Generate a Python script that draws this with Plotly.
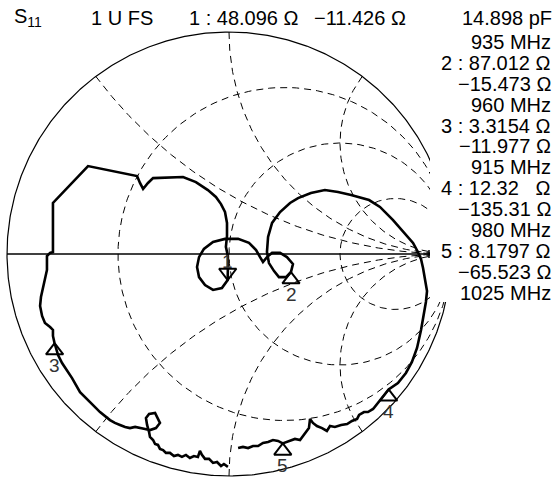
import numpy as np
import plotly.graph_objects as go

# Reference impedance of the measurement port
Z0_OHM = 50.0

# Marker readouts (marker 1 is the active marker)
MARKER_ID = ["1", "2", "3", "4", "5"]
MARKER_FREQ_MHZ = [935, 960, 915, 980, 1025]
MARKER_R_OHM = [48.096, 87.012, 3.3154, 12.32, 8.1797]
MARKER_X_OHM = [-11.426, -15.473, -11.977, -135.31, -65.523]

# Smith chart graticule: constant-resistance circles and constant-reactance arcs
R_CIRCLES = [1 / 3, 1.0, 3.0]
X_ARCS = [0.5, 1.0, 2.0, -0.5, -1.0, -2.0]

# Swept S11 trace, reflection coefficient (real part, imaginary part)
S11_RE = [
    -0.005, -0.023, -0.036, -0.054, -0.072, -0.090, -0.108, -0.122, -0.131, -0.140,
    -0.158, -0.176, -0.194, -0.212, -0.230, -0.248, -0.266, -0.284, -0.297, -0.311,
    -0.320, -0.333, -0.342, -0.356, -0.360, -0.369, -0.374, -0.360, -0.333, -0.320,
    -0.311, -0.329, -0.356, -0.378, -0.401, -0.423, -0.446, -0.468, -0.491, -0.514,
    -0.536, -0.559, -0.581, -0.626, -0.671, -0.707, -0.730, -0.752, -0.770, -0.779,
    -0.786, -0.793, -0.793, -0.806, -0.829, -0.842, -0.851, -0.847, -0.838, -0.829,
    -0.820, -0.820, -0.806, -0.793, -0.793, -0.635, -0.414, -0.401, -0.387, -0.365,
    -0.342, -0.207, -0.149, -0.095, -0.059, -0.036, -0.018, -0.009, -0.009, -0.014,
    -0.005, -0.005, -0.006, -0.032, -0.072, -0.108, -0.135, -0.144, -0.135, -0.113,
    -0.072, -0.018, 0.041, 0.090, 0.122, 0.140, 0.153, 0.171, 0.194, 0.230,
    0.261, 0.288, 0.279, 0.257, 0.225, 0.203, 0.180, 0.171, 0.176, 0.194,
    0.230, 0.275, 0.311, 0.369, 0.432, 0.491, 0.550, 0.631, 0.680, 0.739,
    0.784, 0.829, 0.851, 0.865, 0.874, 0.883, 0.892, 0.887, 0.878, 0.865,
    0.847, 0.824, 0.797, 0.761, 0.719, 0.689, 0.662, 0.649, 0.626, 0.608,
    0.586, 0.577, 0.554, 0.532, 0.505, 0.477, 0.455, 0.441, 0.419, 0.396,
    0.378, 0.365, 0.360, 0.342, 0.333, 0.320, 0.297, 0.275, 0.242, 0.221,
    0.198, 0.176, 0.153, 0.131, 0.108, 0.086, 0.063, 0.041,
]
S11_IM = [
    -0.959, -0.946, -0.955, -0.937, -0.941, -0.923, -0.923, -0.905, -0.887, -0.914,
    -0.910, -0.919, -0.905, -0.914, -0.905, -0.910, -0.896, -0.896, -0.883, -0.878,
    -0.860, -0.856, -0.838, -0.824, -0.802, -0.770, -0.739, -0.721, -0.716, -0.739,
    -0.761, -0.784, -0.793, -0.788, -0.784, -0.779, -0.784, -0.779, -0.770, -0.761,
    -0.748, -0.730, -0.712, -0.667, -0.622, -0.559, -0.523, -0.491, -0.455, -0.428,
    -0.401, -0.369, -0.342, -0.329, -0.311, -0.279, -0.234, -0.194, -0.158, -0.117,
    -0.072, -0.009, 0.005, 0.009, 0.230, 0.396, 0.351, 0.320, 0.293, 0.320,
    0.342, 0.347, 0.324, 0.288, 0.257, 0.225, 0.189, 0.140, 0.081, 0.032,
    -0.009, -0.063, -0.117, -0.153, -0.162, -0.140, -0.104, -0.059, -0.014, 0.023,
    0.054, 0.068, 0.068, 0.050, 0.018, -0.014, -0.036, -0.014, 0.005, 0.005,
    -0.014, -0.045, -0.081, -0.104, -0.104, -0.077, -0.041, 0.009, 0.077, 0.140,
    0.189, 0.230, 0.252, 0.275, 0.288, 0.279, 0.266, 0.243, 0.212, 0.153,
    0.099, 0.050, 0.009, -0.023, -0.063, -0.117, -0.167, -0.216, -0.266, -0.342,
    -0.423, -0.486, -0.536, -0.581, -0.610, -0.649, -0.685, -0.698, -0.712, -0.712,
    -0.725, -0.743, -0.752, -0.766, -0.770, -0.779, -0.775, -0.797, -0.784, -0.775,
    -0.761, -0.743, -0.784, -0.811, -0.824, -0.838, -0.833, -0.842, -0.853, -0.842,
    -0.838, -0.847, -0.851, -0.865, -0.865, -0.874, -0.869, -0.874,
]

# ---------------------------------------------------------------- canvas
W, H = 560, 477
CX, CY, PX_PER_UNIT = 229.0, 254.0, 222.0   # chart centre and radius in pixels
X_RANGE = [-CX / PX_PER_UNIT, (W - CX) / PX_PER_UNIT]
Y_RANGE = [(CY - H) / PX_PER_UNIT, CY / PX_PER_UNIT]

FONT = "Liberation Sans, Arial, sans-serif"
TXT = 20
MINUS = "\u2212"
PAD = 3  # annotation box inset, px


def px_x(px):
    return px / W


def px_y(py):
    return 1 - py / H


def gamma_from_z(z):
    return (z - 1) / (z + 1)


fig = go.Figure()
grid_line = dict(color="black", width=1, dash="7px,5px")

# constant-resistance circles
xs = np.concatenate([-np.geomspace(1e4, 1e-3, 500), [0.0], np.geomspace(1e-3, 1e4, 500)])
for r in R_CIRCLES:
    g = gamma_from_z(r + 1j * xs)
    fig.add_trace(go.Scatter(x=g.real, y=g.imag, mode="lines", line=grid_line,
                             hoverinfo="skip", showlegend=False))

# constant-reactance arcs
rs = np.concatenate([[0.0], np.geomspace(1e-3, 1e4, 700)])
for x in X_ARCS:
    g = gamma_from_z(rs + 1j * x)
    fig.add_trace(go.Scatter(x=g.real, y=g.imag, mode="lines", line=grid_line,
                             hoverinfo="skip", showlegend=False))

# outer boundary (r = 0) and real axis
th = np.linspace(0, 2 * np.pi, 721)
fig.add_trace(go.Scatter(x=np.cos(th), y=np.sin(th), mode="lines",
                         line=dict(color="black", width=1.2),
                         hoverinfo="skip", showlegend=False))
fig.add_trace(go.Scatter(x=[-1, 1], y=[0, 0], mode="lines",
                         line=dict(color="black", width=1.5),
                         hoverinfo="skip", showlegend=False))

# measured trace
fig.add_trace(go.Scatter(x=S11_RE, y=S11_IM, mode="lines",
                         line=dict(color="black", width=2.6),
                         hoverinfo="skip", showlegend=False))

# markers: triangle tip sits on the marker point
TRI_SIZE = 15
tip = (TRI_SIZE / 2) / PX_PER_UNIT
mz = (np.array(MARKER_R_OHM) + 1j * np.array(MARKER_X_OHM)) / Z0_OHM
mg = gamma_from_z(mz)
for i, mid in enumerate(MARKER_ID):
    active = i == 0
    fig.add_trace(go.Scatter(
        x=[mg[i].real], y=[mg[i].imag + (tip if active else -tip)],
        mode="markers",
        marker=dict(symbol="triangle-down-open" if active else "triangle-up-open",
                    size=TRI_SIZE, color="black", line=dict(width=2, color="black")),
        hoverinfo="skip", showlegend=False))
    fig.add_annotation(x=mg[i].real, y=mg[i].imag, xref="x", yref="y",
                       text=mid, showarrow=False,
                       yshift=19 if active else -22,
                       font=dict(family=FONT, size=19, color="#333"))

# panel behind the marker listing
fig.add_shape(type="rect", xref="paper", yref="paper",
              x0=px_x(430), x1=1, y0=px_y(302), y1=px_y(30),
              fillcolor="white", line=dict(width=0), layer="above")
fig.add_shape(type="line", xref="paper", yref="paper",
              x0=px_x(429), x1=px_x(429), y0=px_y(250), y1=px_y(258),
              line=dict(color="black", width=1.5), layer="above")


def fmt(v):
    s = f"{v:.5g}".replace("-", MINUS)
    nd = sum(c.isdigit() for c in s)
    return s + "\u00a0\u00a0" * max(0, 5 - nd)


def label(text, x, y, anchor):
    xa = x - PAD if anchor == "left" else x + PAD
    fig.add_annotation(x=px_x(xa), y=px_y(y), xref="paper", yref="paper",
                       text=text, showarrow=False, xanchor=anchor, yanchor="middle",
                       font=dict(family=FONT, size=TXT, color="black"))


# header line
c_pf = 1e12 / (2 * np.pi * MARKER_FREQ_MHZ[0] * 1e6 * abs(MARKER_X_OHM[0]))
label("S<sub>11</sub>", 15, 18, "left")
label("1 U FS", 92, 18, "left")
label(f"{MARKER_ID[0]} : {fmt(MARKER_R_OHM[0])} \u03a9", 190, 18, "left")
label(f"{fmt(MARKER_X_OHM[0])} \u03a9", 315, 18, "left")
label(f"{c_pf:.3f} pF", 551, 18, "right")

# marker listing
lines = [f"{MARKER_FREQ_MHZ[0]} MHz"]
for i in range(1, len(MARKER_ID)):
    lines += [f"{MARKER_ID[i]} : {fmt(MARKER_R_OHM[i])} \u03a9",
              f"{fmt(MARKER_X_OHM[i])} \u03a9",
              f"{MARKER_FREQ_MHZ[i]} MHz"]
for k, t in enumerate(lines):
    label(t, 550, 42 + 20.9 * k, "right")

fig.update_layout(
    width=W, height=H, margin=dict(l=0, r=0, t=0, b=0),
    paper_bgcolor="white", plot_bgcolor="white",
    xaxis=dict(range=X_RANGE, visible=False, fixedrange=True),
    yaxis=dict(range=Y_RANGE, visible=False, fixedrange=True),
)

fig.write_html("out.html")
